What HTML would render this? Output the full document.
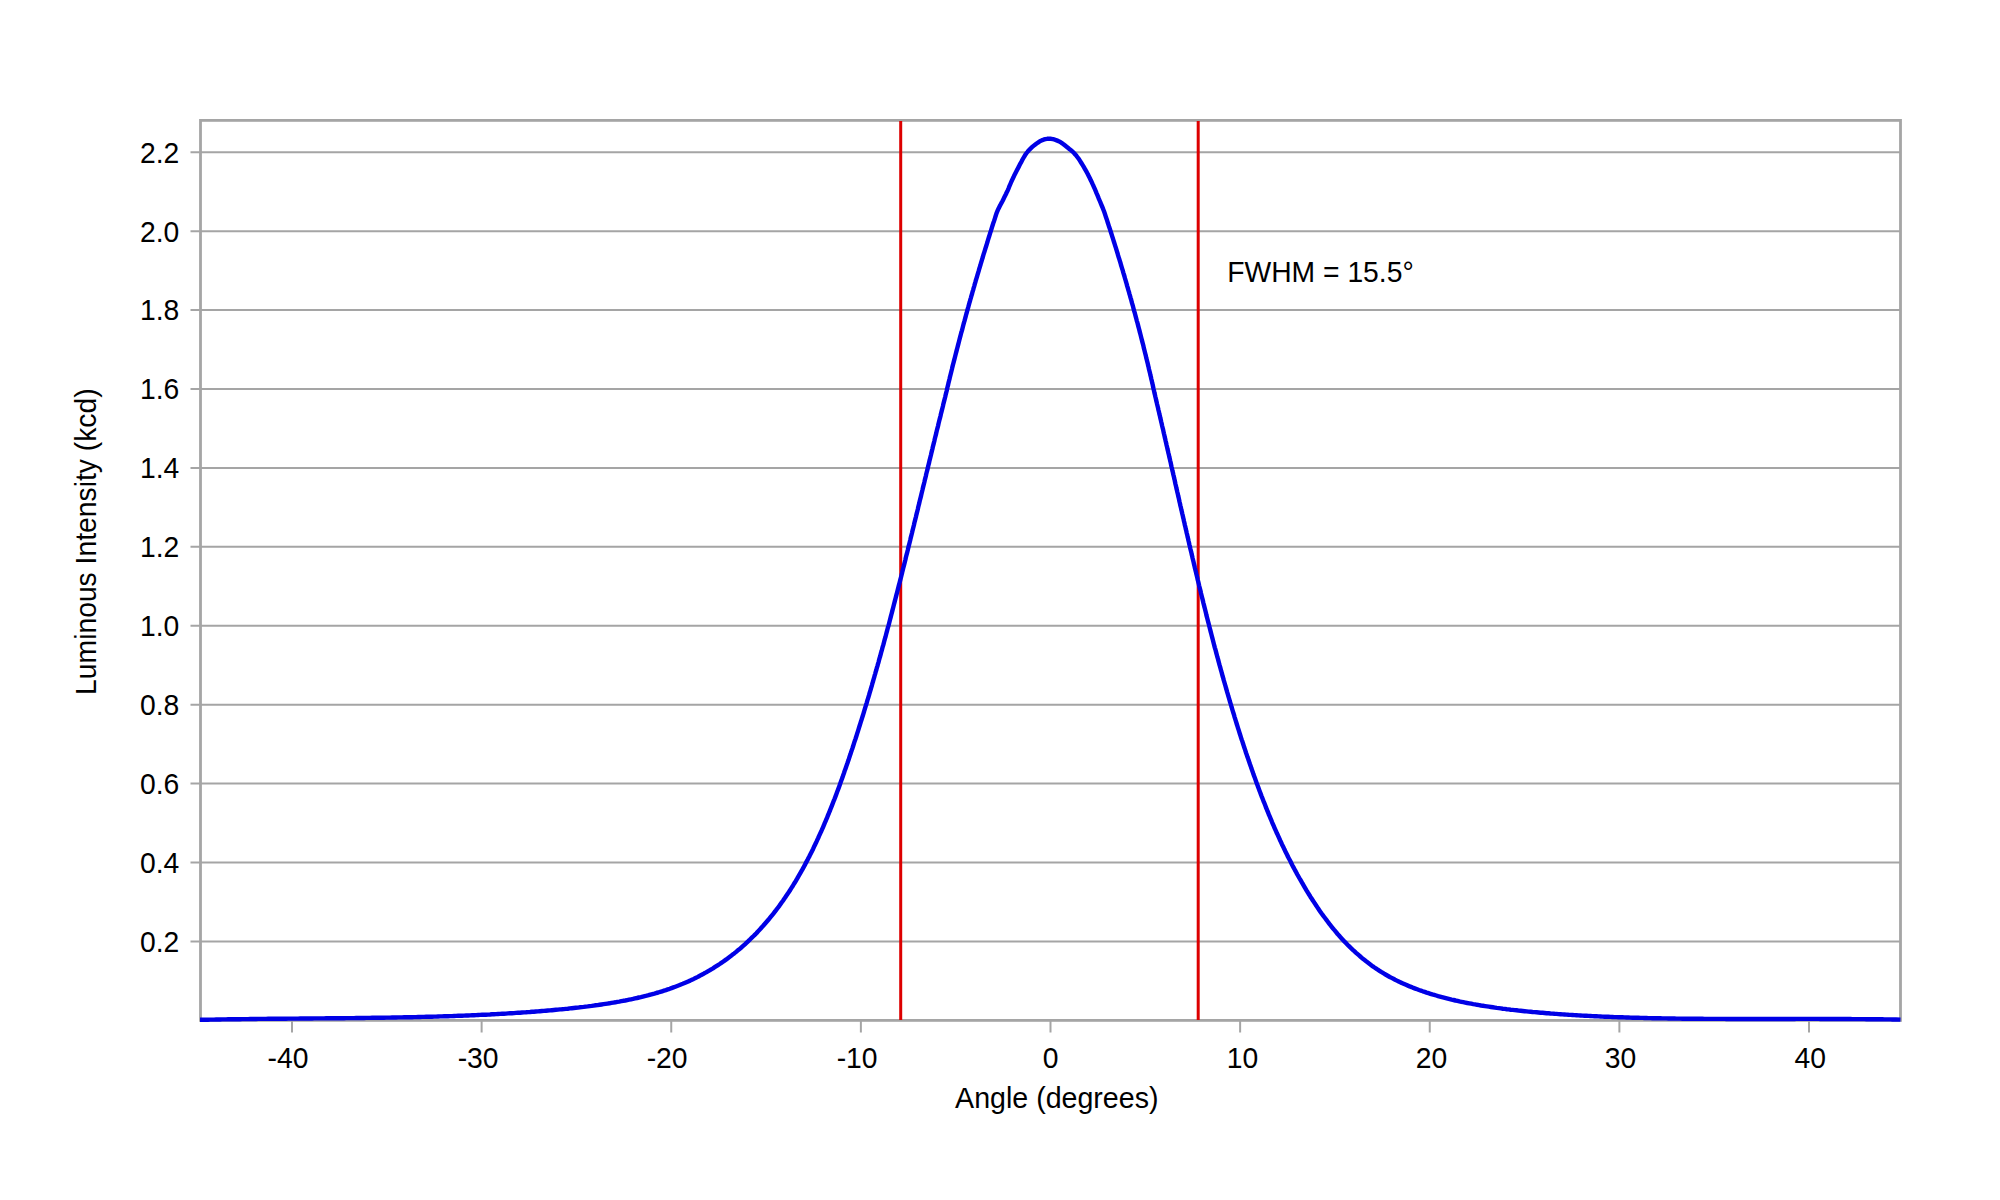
<!DOCTYPE html>
<html><head><meta charset="utf-8"><style>
html,body{margin:0;padding:0;background:#fff;width:2000px;height:1200px;overflow:hidden}
svg{position:absolute;left:0;top:0;display:block}
text{font-family:"Liberation Sans",sans-serif;font-size:28.3px;fill:#000}
</style></head><body>
<svg width="2000" height="1200" viewBox="0 0 2000 1200">
<rect width="2000" height="1200" fill="#fff"/>
<line x1="190.5" y1="941.40" x2="1900.5" y2="941.40" stroke="#a5a5a5" stroke-width="2"/>
<line x1="190.5" y1="862.49" x2="1900.5" y2="862.49" stroke="#a5a5a5" stroke-width="2"/>
<line x1="190.5" y1="783.58" x2="1900.5" y2="783.58" stroke="#a5a5a5" stroke-width="2"/>
<line x1="190.5" y1="704.67" x2="1900.5" y2="704.67" stroke="#a5a5a5" stroke-width="2"/>
<line x1="190.5" y1="625.76" x2="1900.5" y2="625.76" stroke="#a5a5a5" stroke-width="2"/>
<line x1="190.5" y1="546.85" x2="1900.5" y2="546.85" stroke="#a5a5a5" stroke-width="2"/>
<line x1="190.5" y1="467.94" x2="1900.5" y2="467.94" stroke="#a5a5a5" stroke-width="2"/>
<line x1="190.5" y1="389.03" x2="1900.5" y2="389.03" stroke="#a5a5a5" stroke-width="2"/>
<line x1="190.5" y1="310.12" x2="1900.5" y2="310.12" stroke="#a5a5a5" stroke-width="2"/>
<line x1="190.5" y1="231.21" x2="1900.5" y2="231.21" stroke="#a5a5a5" stroke-width="2"/>
<line x1="190.5" y1="152.30" x2="1900.5" y2="152.30" stroke="#a5a5a5" stroke-width="2"/>
<line x1="292.00" y1="1020" x2="292.00" y2="1032.5" stroke="#a5a5a5" stroke-width="2"/>
<line x1="481.62" y1="1020" x2="481.62" y2="1032.5" stroke="#a5a5a5" stroke-width="2"/>
<line x1="671.25" y1="1020" x2="671.25" y2="1032.5" stroke="#a5a5a5" stroke-width="2"/>
<line x1="860.88" y1="1020" x2="860.88" y2="1032.5" stroke="#a5a5a5" stroke-width="2"/>
<line x1="1050.50" y1="1020" x2="1050.50" y2="1032.5" stroke="#a5a5a5" stroke-width="2"/>
<line x1="1240.12" y1="1020" x2="1240.12" y2="1032.5" stroke="#a5a5a5" stroke-width="2"/>
<line x1="1429.75" y1="1020" x2="1429.75" y2="1032.5" stroke="#a5a5a5" stroke-width="2"/>
<line x1="1619.38" y1="1020" x2="1619.38" y2="1032.5" stroke="#a5a5a5" stroke-width="2"/>
<line x1="1809.00" y1="1020" x2="1809.00" y2="1032.5" stroke="#a5a5a5" stroke-width="2"/>
<rect x="200.5" y="120.4" width="1700" height="900" fill="none" stroke="#a5a5a5" stroke-width="2.8"/>
<line x1="900.7" y1="121" x2="900.7" y2="1020" stroke="#dd0000" stroke-width="3"/>
<line x1="1198.2" y1="121" x2="1198.2" y2="1020" stroke="#dd0000" stroke-width="3"/>
<path d="M200.0,1019.8 L202.9,1019.8 L204.4,1019.8 L206.2,1019.7 L208.1,1019.7 L210.1,1019.6 L212.1,1019.6 L214.1,1019.6 L216.1,1019.5 L218.1,1019.5 L220.1,1019.5 L222.1,1019.4 L224.1,1019.4 L226.1,1019.4 L228.1,1019.3 L230.1,1019.3 L232.1,1019.3 L234.1,1019.2 L236.1,1019.2 L238.1,1019.2 L240.1,1019.2 L242.1,1019.1 L244.1,1019.1 L246.1,1019.1 L248.1,1019.1 L250.1,1019.0 L252.1,1019.0 L254.1,1019.0 L256.1,1019.0 L258.1,1018.9 L260.1,1018.9 L262.1,1018.9 L264.1,1018.9 L266.1,1018.9 L268.1,1018.8 L270.1,1018.8 L272.1,1018.8 L274.1,1018.8 L276.1,1018.8 L278.1,1018.7 L280.1,1018.7 L282.1,1018.7 L284.1,1018.7 L286.1,1018.7 L288.1,1018.6 L290.1,1018.6 L292.1,1018.6 L294.1,1018.6 L296.1,1018.6 L298.1,1018.6 L300.1,1018.5 L302.1,1018.5 L304.1,1018.5 L306.1,1018.5 L308.1,1018.5 L310.1,1018.5 L312.1,1018.5 L314.1,1018.4 L316.1,1018.4 L318.1,1018.4 L320.1,1018.4 L322.1,1018.4 L324.1,1018.4 L326.1,1018.3 L328.1,1018.3 L330.1,1018.3 L332.1,1018.3 L334.1,1018.3 L336.1,1018.2 L338.1,1018.2 L340.1,1018.2 L342.1,1018.2 L344.1,1018.2 L346.1,1018.1 L348.1,1018.1 L350.1,1018.1 L352.1,1018.1 L354.1,1018.1 L356.1,1018.0 L358.1,1018.0 L360.1,1018.0 L362.1,1018.0 L364.1,1018.0 L366.1,1017.9 L368.1,1017.9 L370.1,1017.9 L372.1,1017.8 L374.1,1017.8 L376.1,1017.8 L378.1,1017.8 L380.1,1017.7 L382.1,1017.7 L384.1,1017.7 L386.1,1017.6 L388.1,1017.6 L390.1,1017.6 L392.1,1017.5 L394.1,1017.5 L396.1,1017.5 L398.1,1017.4 L400.1,1017.4 L402.1,1017.4 L404.1,1017.3 L406.1,1017.3 L408.1,1017.2 L410.1,1017.2 L412.1,1017.2 L414.1,1017.1 L416.1,1017.1 L418.1,1017.0 L420.1,1017.0 L422.1,1016.9 L424.1,1016.9 L426.1,1016.8 L428.1,1016.8 L430.1,1016.7 L432.1,1016.7 L434.1,1016.6 L436.1,1016.6 L438.1,1016.5 L440.1,1016.4 L442.1,1016.4 L444.1,1016.3 L446.1,1016.3 L448.1,1016.2 L450.1,1016.1 L452.1,1016.1 L454.1,1016.0 L456.1,1015.9 L458.1,1015.8 L460.1,1015.8 L462.1,1015.7 L464.1,1015.6 L466.1,1015.5 L468.1,1015.5 L470.1,1015.4 L472.1,1015.3 L474.1,1015.2 L476.1,1015.1 L478.1,1015.0 L480.0,1014.9 L482.0,1014.8 L484.0,1014.7 L486.0,1014.7 L488.0,1014.6 L490.0,1014.5 L492.0,1014.3 L494.0,1014.2 L496.0,1014.1 L498.0,1014.0 L500.0,1013.9 L502.0,1013.8 L504.0,1013.7 L506.0,1013.6 L508.0,1013.4 L510.0,1013.3 L512.0,1013.2 L514.0,1013.1 L516.0,1012.9 L518.0,1012.8 L520.0,1012.7 L522.0,1012.5 L524.0,1012.4 L526.0,1012.3 L528.0,1012.1 L530.0,1012.0 L532.0,1011.8 L533.9,1011.7 L535.9,1011.5 L537.9,1011.4 L539.9,1011.2 L541.9,1011.0 L543.9,1010.9 L545.9,1010.7 L547.9,1010.5 L549.9,1010.4 L551.9,1010.2 L553.9,1010.0 L555.9,1009.8 L557.9,1009.6 L559.9,1009.4 L561.8,1009.3 L563.8,1009.1 L565.8,1008.9 L567.8,1008.7 L569.8,1008.4 L571.8,1008.2 L573.8,1008.0 L575.8,1007.8 L577.8,1007.6 L579.7,1007.3 L581.7,1007.1 L583.7,1006.9 L585.7,1006.6 L587.7,1006.4 L589.7,1006.1 L591.7,1005.9 L593.6,1005.6 L595.6,1005.3 L597.6,1005.1 L599.6,1004.8 L601.6,1004.5 L603.5,1004.2 L605.5,1003.9 L607.5,1003.6 L609.5,1003.3 L611.4,1002.9 L613.4,1002.6 L615.4,1002.3 L617.3,1001.9 L619.3,1001.6 L621.3,1001.2 L623.2,1000.8 L625.2,1000.5 L627.2,1000.1 L629.1,999.7 L631.1,999.3 L633.0,998.9 L635.0,998.4 L637.0,998.0 L638.9,997.5 L640.8,997.1 L642.8,996.6 L644.7,996.1 L646.7,995.7 L648.6,995.2 L650.5,994.6 L652.5,994.1 L654.4,993.6 L656.3,993.0 L658.2,992.5 L660.2,991.9 L662.1,991.3 L664.0,990.7 L665.9,990.1 L667.8,989.4 L669.7,988.8 L671.5,988.1 L673.4,987.4 L675.3,986.7 L677.2,986.0 L679.0,985.3 L680.9,984.5 L682.7,983.8 L684.6,983.0 L686.4,982.2 L688.2,981.4 L690.1,980.6 L691.9,979.7 L693.7,978.9 L695.5,978.0 L697.3,977.1 L699.0,976.2 L700.8,975.2 L702.6,974.3 L704.3,973.3 L706.1,972.4 L707.8,971.4 L709.5,970.4 L711.2,969.3 L713.0,968.3 L714.7,967.2 L716.3,966.2 L718.0,965.1 L719.7,964.0 L721.3,962.9 L723.0,961.7 L724.6,960.6 L726.3,959.4 L727.9,958.2 L729.5,957.0 L731.1,955.8 L732.6,954.6 L734.2,953.4 L735.8,952.1 L737.3,950.8 L738.9,949.6 L740.4,948.3 L741.9,947.0 L743.4,945.6 L744.9,944.3 L746.4,942.9 L747.8,941.6 L749.3,940.2 L750.7,938.8 L752.1,937.4 L753.6,936.0 L755.0,934.6 L756.4,933.2 L757.7,931.7 L759.1,930.3 L760.5,928.8 L761.8,927.3 L763.2,925.8 L764.5,924.3 L765.8,922.8 L767.1,921.3 L768.4,919.8 L769.7,918.2 L770.9,916.7 L772.2,915.1 L773.4,913.6 L774.6,912.0 L775.9,910.4 L777.1,908.8 L778.3,907.2 L779.5,905.6 L780.6,904.0 L781.8,902.3 L783.0,900.7 L784.1,899.1 L785.2,897.4 L786.3,895.8 L787.5,894.1 L788.6,892.4 L789.7,890.8 L790.7,889.1 L791.8,887.4 L792.9,885.7 L793.9,884.0 L795.0,882.3 L796.0,880.6 L797.0,878.9 L798.0,877.1 L799.0,875.4 L800.0,873.7 L801.0,871.9 L802.0,870.2 L803.0,868.4 L803.9,866.7 L804.9,864.9 L805.8,863.1 L806.7,861.4 L807.7,859.6 L808.6,857.8 L809.5,856.1 L810.4,854.3 L811.3,852.5 L812.2,850.7 L813.1,848.9 L813.9,847.1 L814.8,845.3 L815.6,843.5 L816.5,841.7 L817.3,839.9 L818.2,838.0 L819.0,836.2 L819.8,834.4 L820.6,832.6 L821.5,830.7 L822.3,828.9 L823.1,827.1 L823.9,825.2 L824.6,823.4 L825.4,821.6 L826.2,819.7 L827.0,817.9 L827.7,816.0 L828.5,814.2 L829.2,812.3 L830.0,810.5 L830.7,808.6 L831.5,806.7 L832.2,804.9 L832.9,803.0 L833.6,801.2 L834.4,799.3 L835.1,797.4 L835.8,795.6 L836.5,793.7 L837.2,791.8 L837.9,789.9 L838.6,788.1 L839.3,786.2 L840.0,784.3 L840.6,782.4 L841.3,780.5 L842.0,778.7 L842.7,776.8 L843.3,774.9 L844.0,773.0 L844.6,771.1 L845.3,769.2 L846.0,767.3 L846.6,765.4 L847.3,763.5 L847.9,761.7 L848.6,759.8 L849.2,757.9 L849.8,756.0 L850.5,754.1 L851.1,752.2 L851.7,750.3 L852.4,748.4 L853.0,746.5 L853.6,744.6 L854.2,742.7 L854.8,740.8 L855.5,738.9 L856.1,737.0 L856.7,735.1 L857.3,733.2 L857.9,731.3 L858.5,729.4 L859.1,727.4 L859.7,725.5 L860.3,723.6 L860.9,721.7 L861.5,719.8 L862.1,717.9 L862.7,716.0 L863.3,714.1 L863.9,712.2 L864.4,710.3 L865.0,708.3 L865.6,706.4 L866.2,704.5 L866.8,702.6 L867.3,700.7 L867.9,698.8 L868.5,696.8 L869.1,694.9 L869.6,693.0 L870.2,691.1 L870.8,689.2 L871.3,687.3 L871.9,685.3 L872.4,683.4 L873.0,681.5 L873.5,679.6 L874.1,677.7 L874.6,675.7 L875.2,673.8 L875.7,671.9 L876.3,670.0 L876.8,668.0 L877.4,666.1 L877.9,664.2 L878.5,662.3 L879.0,660.3 L879.5,658.4 L880.1,656.5 L880.6,654.6 L881.1,652.6 L881.7,650.7 L882.2,648.8 L882.7,646.8 L883.3,644.9 L883.8,643.0 L884.3,641.0 L884.8,639.1 L885.4,637.2 L885.9,635.3 L886.4,633.3 L886.9,631.4 L887.4,629.5 L887.9,627.5 L888.5,625.6 L889.0,623.7 L889.5,621.7 L890.0,619.8 L890.5,617.9 L891.0,615.9 L891.5,614.0 L892.0,612.1 L892.5,610.1 L893.0,608.2 L893.5,606.3 L894.0,604.3 L894.5,602.4 L895.0,600.4 L895.5,598.5 L896.0,596.6 L896.5,594.6 L897.0,592.7 L897.5,590.8 L898.0,588.8 L898.5,586.9 L899.0,584.9 L899.5,583.0 L900.0,581.1 L900.5,579.1 L901.0,577.2 L901.5,575.3 L902.0,573.3 L902.4,571.4 L902.9,569.4 L903.4,567.5 L903.9,565.6 L904.4,563.6 L904.9,561.7 L905.4,559.7 L905.8,557.8 L906.3,555.8 L906.8,553.9 L907.3,552.0 L907.8,550.0 L908.2,548.1 L908.7,546.1 L909.2,544.2 L909.7,542.3 L910.2,540.3 L910.6,538.4 L911.1,536.4 L911.6,534.5 L912.1,532.5 L912.5,530.6 L913.0,528.7 L913.5,526.7 L914.0,524.8 L914.4,522.8 L914.9,520.9 L915.4,518.9 L915.9,517.0 L916.3,515.1 L916.8,513.1 L917.3,511.2 L917.8,509.2 L918.2,507.3 L918.7,505.3 L919.2,503.4 L919.6,501.5 L920.1,499.5 L920.6,497.6 L921.1,495.6 L921.5,493.7 L922.0,491.7 L922.5,489.8 L922.9,487.9 L923.4,485.9 L923.9,484.0 L924.4,482.0 L924.8,480.1 L925.3,478.1 L925.8,476.2 L926.2,474.2 L926.7,472.3 L927.2,470.4 L927.7,468.4 L928.1,466.5 L928.6,464.5 L929.1,462.6 L929.5,460.6 L930.0,458.7 L930.5,456.8 L931.0,454.8 L931.4,452.9 L931.9,450.9 L932.4,449.0 L932.8,447.0 L933.3,445.1 L933.8,443.1 L934.3,441.2 L934.7,439.3 L935.2,437.3 L935.7,435.4 L936.2,433.4 L936.6,431.5 L937.1,429.5 L937.6,427.6 L938.1,425.7 L938.5,423.7 L939.0,421.8 L939.5,419.8 L940.0,417.9 L940.5,416.0 L940.9,414.0 L941.4,412.1 L941.9,410.1 L942.4,408.2 L942.9,406.2 L943.3,404.3 L943.8,402.4 L944.3,400.4 L944.8,398.5 L945.3,396.5 L945.7,394.6 L946.2,392.7 L946.7,390.7 L947.1,388.8 L947.6,386.8 L948.1,384.9 L948.5,382.9 L949.0,381.0 L949.5,379.0 L949.9,377.1 L950.4,375.2 L950.9,373.2 L951.4,371.3 L951.9,369.3 L952.3,367.4 L952.8,365.4 L953.3,363.5 L953.8,361.6 L954.3,359.6 L954.8,357.7 L955.3,355.8 L955.8,353.8 L956.3,351.9 L956.8,349.9 L957.3,348.0 L957.8,346.1 L958.3,344.1 L958.8,342.2 L959.3,340.3 L959.8,338.3 L960.3,336.4 L960.8,334.5 L961.3,332.5 L961.9,330.6 L962.4,328.7 L962.9,326.7 L963.4,324.8 L963.9,322.9 L964.5,320.9 L965.0,319.0 L965.5,317.1 L966.0,315.2 L966.6,313.2 L967.1,311.3 L967.6,309.4 L968.2,307.4 L968.7,305.5 L969.2,303.6 L969.8,301.7 L970.3,299.7 L970.9,297.8 L971.4,295.9 L972.0,294.0 L972.5,292.0 L973.1,290.1 L973.6,288.2 L974.2,286.3 L974.7,284.4 L975.3,282.4 L975.8,280.5 L976.4,278.6 L977.0,276.7 L977.5,274.8 L978.1,272.8 L978.7,270.9 L979.2,269.0 L979.8,267.1 L980.4,265.2 L980.9,263.3 L981.5,261.3 L982.1,259.4 L982.7,257.5 L983.2,255.6 L983.8,253.7 L984.4,251.8 L985.0,249.9 L985.6,247.9 L986.2,246.0 L986.8,244.1 L987.4,242.2 L987.9,240.3 L988.5,238.4 L989.1,236.5 L989.7,234.6 L990.3,232.7 L990.9,230.8 L991.5,228.8 L992.1,226.9 L992.7,225.0 L993.3,223.1 L994.0,221.2 L994.6,219.3 L995.2,217.4 L995.8,215.5 L996.4,213.6 L997.1,211.8 L997.9,209.9 L998.7,208.2 L999.6,206.4 L1000.5,204.7 L1001.5,202.9 L1002.4,201.2 L1003.3,199.4 L1004.2,197.6 L1005.1,195.8 L1006.0,194.0 L1006.8,192.2 L1007.7,190.4 L1008.5,188.6 L1009.2,186.7 L1010.0,184.9 L1010.8,183.0 L1011.6,181.2 L1012.4,179.4 L1013.3,177.6 L1014.1,175.8 L1015.0,174.0 L1015.9,172.2 L1016.8,170.4 L1017.8,168.6 L1018.7,166.9 L1019.6,165.1 L1020.5,163.3 L1021.5,161.6 L1022.4,159.8 L1023.4,158.0 L1024.4,156.3 L1025.4,154.6 L1026.6,153.0 L1027.8,151.5 L1029.1,150.0 L1030.5,148.6 L1032.0,147.2 L1033.5,145.9 L1035.0,144.7 L1036.6,143.5 L1038.3,142.4 L1039.9,141.3 L1041.7,140.4 L1043.5,139.7 L1045.3,139.1 L1047.2,138.8 L1049.1,138.7 L1051.1,138.8 L1053.0,139.2 L1054.9,139.7 L1056.7,140.4 L1058.5,141.1 L1060.3,142.0 L1061.9,143.1 L1063.5,144.2 L1065.1,145.5 L1066.6,146.7 L1068.2,148.0 L1069.7,149.3 L1071.3,150.5 L1072.8,151.8 L1074.2,153.2 L1075.5,154.7 L1076.7,156.2 L1077.9,157.8 L1079.1,159.4 L1080.2,161.1 L1081.2,162.8 L1082.3,164.5 L1083.3,166.2 L1084.3,167.9 L1085.3,169.7 L1086.3,171.4 L1087.3,173.2 L1088.2,174.9 L1089.1,176.7 L1090.0,178.5 L1090.8,180.3 L1091.7,182.1 L1092.5,183.9 L1093.4,185.8 L1094.2,187.6 L1095.0,189.4 L1095.8,191.3 L1096.5,193.1 L1097.3,194.9 L1098.1,196.8 L1098.8,198.6 L1099.6,200.5 L1100.4,202.3 L1101.1,204.2 L1101.9,206.0 L1102.7,207.9 L1103.4,209.7 L1104.1,211.6 L1104.8,213.5 L1105.4,215.4 L1106.0,217.3 L1106.7,219.2 L1107.3,221.1 L1107.9,223.0 L1108.5,224.9 L1109.1,226.8 L1109.8,228.7 L1110.4,230.6 L1111.0,232.5 L1111.6,234.4 L1112.2,236.3 L1112.8,238.2 L1113.4,240.1 L1114.0,242.0 L1114.6,243.9 L1115.2,245.8 L1115.8,247.7 L1116.4,249.7 L1117.0,251.6 L1117.6,253.5 L1118.1,255.4 L1118.7,257.3 L1119.3,259.2 L1119.9,261.1 L1120.5,263.0 L1121.0,265.0 L1121.6,266.9 L1122.2,268.8 L1122.8,270.7 L1123.3,272.6 L1123.9,274.5 L1124.5,276.5 L1125.0,278.4 L1125.6,280.3 L1126.1,282.2 L1126.7,284.1 L1127.2,286.1 L1127.8,288.0 L1128.3,289.9 L1128.9,291.8 L1129.4,293.8 L1130.0,295.7 L1130.5,297.6 L1131.1,299.5 L1131.6,301.5 L1132.1,303.4 L1132.7,305.3 L1133.2,307.2 L1133.7,309.2 L1134.2,311.1 L1134.8,313.0 L1135.3,315.0 L1135.8,316.9 L1136.3,318.8 L1136.8,320.8 L1137.4,322.7 L1137.9,324.6 L1138.4,326.6 L1138.9,328.5 L1139.4,330.4 L1139.9,332.4 L1140.4,334.3 L1140.9,336.2 L1141.4,338.2 L1141.9,340.1 L1142.4,342.1 L1142.9,344.0 L1143.4,345.9 L1143.8,347.9 L1144.3,349.8 L1144.8,351.8 L1145.3,353.7 L1145.8,355.6 L1146.2,357.6 L1146.7,359.5 L1147.2,361.5 L1147.7,363.4 L1148.1,365.4 L1148.6,367.3 L1149.0,369.2 L1149.5,371.2 L1150.0,373.1 L1150.4,375.1 L1150.9,377.0 L1151.3,379.0 L1151.8,380.9 L1152.2,382.9 L1152.7,384.8 L1153.1,386.8 L1153.5,388.7 L1154.0,390.7 L1154.4,392.6 L1154.9,394.6 L1155.3,396.5 L1155.8,398.5 L1156.2,400.4 L1156.7,402.4 L1157.1,404.3 L1157.6,406.3 L1158.1,408.2 L1158.5,410.2 L1159.0,412.1 L1159.4,414.1 L1159.9,416.0 L1160.3,417.9 L1160.8,419.9 L1161.2,421.8 L1161.7,423.8 L1162.1,425.7 L1162.6,427.7 L1163.1,429.6 L1163.5,431.6 L1163.9,433.5 L1164.4,435.5 L1164.8,437.4 L1165.3,439.4 L1165.7,441.3 L1166.2,443.3 L1166.6,445.2 L1167.1,447.2 L1167.5,449.1 L1168.0,451.1 L1168.4,453.0 L1168.9,455.0 L1169.3,456.9 L1169.8,458.9 L1170.2,460.8 L1170.7,462.8 L1171.1,464.7 L1171.5,466.7 L1172.0,468.6 L1172.4,470.6 L1172.9,472.5 L1173.3,474.5 L1173.8,476.4 L1174.2,478.4 L1174.7,480.3 L1175.1,482.3 L1175.5,484.2 L1176.0,486.2 L1176.4,488.1 L1176.9,490.1 L1177.3,492.0 L1177.8,494.0 L1178.2,495.9 L1178.7,497.9 L1179.1,499.8 L1179.5,501.8 L1180.0,503.7 L1180.4,505.7 L1180.9,507.6 L1181.3,509.6 L1181.8,511.5 L1182.2,513.5 L1182.7,515.4 L1183.1,517.4 L1183.6,519.3 L1184.0,521.3 L1184.5,523.2 L1184.9,525.2 L1185.4,527.1 L1185.8,529.1 L1186.3,531.0 L1186.7,533.0 L1187.2,534.9 L1187.6,536.9 L1188.1,538.8 L1188.5,540.8 L1189.0,542.7 L1189.4,544.7 L1189.9,546.6 L1190.3,548.5 L1190.8,550.5 L1191.3,552.4 L1191.7,554.4 L1192.2,556.3 L1192.6,558.3 L1193.1,560.2 L1193.6,562.2 L1194.0,564.1 L1194.5,566.1 L1194.9,568.0 L1195.4,570.0 L1195.9,571.9 L1196.3,573.8 L1196.8,575.8 L1197.3,577.7 L1197.7,579.7 L1198.2,581.6 L1198.7,583.6 L1199.1,585.5 L1199.6,587.5 L1200.1,589.4 L1200.6,591.3 L1201.0,593.3 L1201.5,595.2 L1202.0,597.2 L1202.5,599.1 L1203.0,601.1 L1203.4,603.0 L1203.9,604.9 L1204.4,606.9 L1204.9,608.8 L1205.4,610.8 L1205.9,612.7 L1206.3,614.6 L1206.8,616.6 L1207.3,618.5 L1207.8,620.5 L1208.3,622.4 L1208.8,624.3 L1209.3,626.3 L1209.8,628.2 L1210.3,630.1 L1210.8,632.1 L1211.3,634.0 L1211.8,636.0 L1212.3,637.9 L1212.8,639.8 L1213.3,641.8 L1213.8,643.7 L1214.3,645.6 L1214.8,647.6 L1215.4,649.5 L1215.9,651.4 L1216.4,653.4 L1216.9,655.3 L1217.4,657.2 L1218.0,659.1 L1218.5,661.1 L1219.0,663.0 L1219.5,664.9 L1220.1,666.9 L1220.6,668.8 L1221.1,670.7 L1221.7,672.6 L1222.2,674.6 L1222.7,676.5 L1223.3,678.4 L1223.8,680.4 L1224.4,682.3 L1224.9,684.2 L1225.5,686.1 L1226.0,688.0 L1226.6,690.0 L1227.1,691.9 L1227.7,693.8 L1228.2,695.7 L1228.8,697.6 L1229.4,699.6 L1229.9,701.5 L1230.5,703.4 L1231.1,705.3 L1231.6,707.2 L1232.2,709.2 L1232.8,711.1 L1233.4,713.0 L1234.0,714.9 L1234.5,716.8 L1235.1,718.7 L1235.7,720.6 L1236.3,722.5 L1236.9,724.5 L1237.5,726.4 L1238.1,728.3 L1238.7,730.2 L1239.3,732.1 L1239.9,734.0 L1240.5,735.9 L1241.1,737.8 L1241.7,739.7 L1242.4,741.6 L1243.0,743.5 L1243.6,745.4 L1244.2,747.3 L1244.9,749.2 L1245.5,751.1 L1246.1,753.0 L1246.8,754.9 L1247.4,756.8 L1248.1,758.7 L1248.7,760.6 L1249.4,762.5 L1250.0,764.3 L1250.7,766.2 L1251.3,768.1 L1252.0,770.0 L1252.7,771.9 L1253.3,773.8 L1254.0,775.7 L1254.7,777.5 L1255.4,779.4 L1256.0,781.3 L1256.7,783.2 L1257.4,785.1 L1258.1,786.9 L1258.8,788.8 L1259.5,790.7 L1260.2,792.6 L1260.9,794.4 L1261.6,796.3 L1262.4,798.2 L1263.1,800.0 L1263.8,801.9 L1264.6,803.7 L1265.3,805.6 L1266.0,807.5 L1266.8,809.3 L1267.5,811.2 L1268.3,813.0 L1269.0,814.9 L1269.8,816.7 L1270.6,818.6 L1271.4,820.4 L1272.1,822.3 L1272.9,824.1 L1273.7,825.9 L1274.5,827.8 L1275.3,829.6 L1276.1,831.4 L1276.9,833.3 L1277.8,835.1 L1278.6,836.9 L1279.4,838.7 L1280.2,840.5 L1281.1,842.3 L1281.9,844.2 L1282.8,846.0 L1283.7,847.8 L1284.5,849.6 L1285.4,851.4 L1286.3,853.2 L1287.2,855.0 L1288.0,856.8 L1288.9,858.5 L1289.9,860.3 L1290.8,862.1 L1291.7,863.9 L1292.6,865.7 L1293.5,867.4 L1294.5,869.2 L1295.4,870.9 L1296.4,872.7 L1297.3,874.5 L1298.3,876.2 L1299.3,878.0 L1300.3,879.7 L1301.3,881.4 L1302.3,883.2 L1303.3,884.9 L1304.3,886.6 L1305.3,888.3 L1306.3,890.1 L1307.4,891.8 L1308.4,893.5 L1309.5,895.2 L1310.5,896.9 L1311.6,898.5 L1312.7,900.2 L1313.8,901.9 L1314.9,903.6 L1316.0,905.2 L1317.1,906.9 L1318.2,908.6 L1319.3,910.2 L1320.5,911.9 L1321.6,913.5 L1322.8,915.1 L1324.0,916.7 L1325.2,918.3 L1326.4,919.9 L1327.6,921.5 L1328.8,923.1 L1330.0,924.7 L1331.3,926.3 L1332.5,927.8 L1333.8,929.4 L1335.1,930.9 L1336.3,932.4 L1337.6,934.0 L1339.0,935.5 L1340.3,937.0 L1341.6,938.4 L1343.0,939.9 L1344.4,941.4 L1345.7,942.8 L1347.1,944.3 L1348.5,945.7 L1350.0,947.1 L1351.4,948.5 L1352.8,949.9 L1354.3,951.2 L1355.8,952.6 L1357.3,953.9 L1358.8,955.2 L1360.3,956.5 L1361.8,957.8 L1363.3,959.1 L1364.9,960.3 L1366.5,961.6 L1368.1,962.8 L1369.7,964.0 L1371.3,965.2 L1372.9,966.4 L1374.5,967.5 L1376.2,968.6 L1377.8,969.7 L1379.5,970.8 L1381.2,971.9 L1382.9,972.9 L1384.6,974.0 L1386.4,975.0 L1388.1,976.0 L1389.8,977.0 L1391.6,977.9 L1393.4,978.8 L1395.1,979.7 L1396.9,980.6 L1398.7,981.5 L1400.5,982.4 L1402.4,983.2 L1404.2,984.0 L1406.0,984.8 L1407.9,985.6 L1409.7,986.4 L1411.6,987.1 L1413.4,987.9 L1415.3,988.6 L1417.2,989.3 L1419.0,990.0 L1420.9,990.6 L1422.8,991.3 L1424.7,991.9 L1426.6,992.6 L1428.5,993.2 L1430.4,993.8 L1432.3,994.4 L1434.2,994.9 L1436.2,995.5 L1438.1,996.1 L1440.0,996.6 L1441.9,997.1 L1443.9,997.6 L1445.8,998.1 L1447.7,998.6 L1449.7,999.1 L1451.6,999.6 L1453.6,1000.0 L1455.5,1000.5 L1457.5,1000.9 L1459.4,1001.4 L1461.4,1001.8 L1463.3,1002.2 L1465.3,1002.6 L1467.3,1003.0 L1469.2,1003.3 L1471.2,1003.7 L1473.2,1004.1 L1475.1,1004.4 L1477.1,1004.8 L1479.1,1005.1 L1481.0,1005.5 L1483.0,1005.8 L1485.0,1006.1 L1487.0,1006.4 L1488.9,1006.7 L1490.9,1007.0 L1492.9,1007.3 L1494.9,1007.6 L1496.8,1007.9 L1498.8,1008.1 L1500.8,1008.4 L1502.8,1008.7 L1504.8,1008.9 L1506.8,1009.2 L1508.7,1009.4 L1510.7,1009.7 L1512.7,1009.9 L1514.7,1010.1 L1516.7,1010.3 L1518.7,1010.6 L1520.7,1010.8 L1522.7,1011.0 L1524.7,1011.2 L1526.6,1011.4 L1528.6,1011.6 L1530.6,1011.8 L1532.6,1012.0 L1534.6,1012.1 L1536.6,1012.3 L1538.6,1012.5 L1540.6,1012.7 L1542.6,1012.8 L1544.6,1013.0 L1546.6,1013.2 L1548.6,1013.3 L1550.5,1013.5 L1552.5,1013.6 L1554.5,1013.8 L1556.5,1013.9 L1558.5,1014.1 L1560.5,1014.2 L1562.5,1014.4 L1564.5,1014.5 L1566.5,1014.6 L1568.5,1014.8 L1570.5,1014.9 L1572.5,1015.0 L1574.5,1015.1 L1576.5,1015.2 L1578.5,1015.4 L1580.5,1015.5 L1582.5,1015.6 L1584.5,1015.7 L1586.5,1015.8 L1588.5,1015.9 L1590.5,1016.0 L1592.5,1016.1 L1594.5,1016.2 L1596.5,1016.3 L1598.5,1016.4 L1600.5,1016.5 L1602.5,1016.6 L1604.5,1016.7 L1606.4,1016.7 L1608.4,1016.8 L1610.4,1016.9 L1612.4,1017.0 L1614.4,1017.1 L1616.4,1017.1 L1618.4,1017.2 L1620.4,1017.3 L1622.4,1017.3 L1624.4,1017.4 L1626.4,1017.5 L1628.4,1017.5 L1630.4,1017.6 L1632.4,1017.7 L1634.4,1017.7 L1636.4,1017.8 L1638.4,1017.8 L1640.4,1017.9 L1642.4,1017.9 L1644.4,1018.0 L1646.4,1018.0 L1648.4,1018.1 L1650.4,1018.1 L1652.4,1018.2 L1654.4,1018.2 L1656.4,1018.2 L1658.4,1018.3 L1660.4,1018.3 L1662.4,1018.4 L1664.4,1018.4 L1666.4,1018.4 L1668.4,1018.5 L1670.4,1018.5 L1672.4,1018.5 L1674.4,1018.5 L1676.4,1018.6 L1678.4,1018.6 L1680.4,1018.6 L1682.4,1018.7 L1684.4,1018.7 L1686.4,1018.7 L1688.4,1018.7 L1690.4,1018.7 L1692.4,1018.8 L1694.4,1018.8 L1696.4,1018.8 L1698.4,1018.8 L1700.4,1018.8 L1702.4,1018.8 L1704.4,1018.9 L1706.4,1018.9 L1708.4,1018.9 L1710.4,1018.9 L1712.4,1018.9 L1714.4,1018.9 L1716.4,1018.9 L1718.4,1018.9 L1720.4,1018.9 L1722.4,1018.9 L1724.4,1018.9 L1726.4,1019.0 L1728.4,1019.0 L1730.4,1019.0 L1732.4,1019.0 L1734.4,1019.0 L1736.4,1019.0 L1738.4,1019.0 L1740.4,1019.0 L1742.4,1019.0 L1744.4,1019.0 L1746.4,1019.0 L1748.4,1019.0 L1750.4,1019.0 L1752.4,1019.0 L1754.4,1019.0 L1756.4,1019.0 L1758.4,1019.0 L1760.4,1019.0 L1762.4,1019.0 L1764.4,1019.0 L1766.4,1019.0 L1768.4,1019.0 L1770.4,1019.0 L1772.4,1019.0 L1774.4,1019.0 L1776.4,1019.0 L1778.4,1019.0 L1780.4,1019.0 L1782.4,1019.0 L1784.4,1019.0 L1786.4,1019.0 L1788.4,1019.0 L1790.4,1019.0 L1792.4,1019.0 L1794.4,1019.0 L1796.4,1018.9 L1798.4,1018.9 L1800.4,1018.9 L1802.4,1018.9 L1804.4,1018.9 L1806.4,1018.9 L1808.4,1018.9 L1810.4,1018.9 L1812.4,1018.9 L1814.4,1018.9 L1816.4,1018.9 L1818.4,1018.9 L1820.4,1019.0 L1822.4,1019.0 L1824.4,1019.0 L1826.4,1019.0 L1828.4,1019.0 L1830.4,1019.0 L1832.4,1019.0 L1834.4,1019.0 L1836.4,1019.0 L1838.4,1019.0 L1840.4,1019.0 L1842.4,1019.0 L1844.4,1019.0 L1846.4,1019.0 L1848.4,1019.0 L1850.4,1019.0 L1852.4,1019.1 L1854.4,1019.1 L1856.4,1019.1 L1858.4,1019.1 L1860.4,1019.1 L1862.4,1019.1 L1864.4,1019.1 L1866.4,1019.2 L1868.4,1019.2 L1870.4,1019.2 L1872.4,1019.2 L1874.4,1019.2 L1876.4,1019.3 L1878.4,1019.3 L1880.4,1019.3 L1882.4,1019.3 L1884.4,1019.4 L1886.4,1019.4 L1888.4,1019.4 L1890.4,1019.4 L1892.4,1019.5 L1894.3,1019.5 L1896.0,1019.5 L1900.5,1019.6" fill="none" stroke="#0000e6" stroke-width="4.4" stroke-linejoin="round" stroke-linecap="butt"/>
<text transform="translate(288.00,1068) scale(1,1.05)" text-anchor="middle">-40</text>
<text transform="translate(478.10,1068) scale(1,1.05)" text-anchor="middle">-30</text>
<text transform="translate(667.08,1068) scale(1,1.05)" text-anchor="middle">-20</text>
<text transform="translate(857.08,1068) scale(1,1.05)" text-anchor="middle">-10</text>
<text transform="translate(1050.65,1068) scale(1,1.05)" text-anchor="middle">0</text>
<text transform="translate(1242.55,1068) scale(1,1.05)" text-anchor="middle">10</text>
<text transform="translate(1431.57,1068) scale(1,1.05)" text-anchor="middle">20</text>
<text transform="translate(1620.58,1068) scale(1,1.05)" text-anchor="middle">30</text>
<text transform="translate(1810.30,1068) scale(1,1.05)" text-anchor="middle">40</text>
<text transform="translate(179.3,951.70) scale(1,1.05)" text-anchor="end">0.2</text>
<text transform="translate(179.3,872.79) scale(1,1.05)" text-anchor="end">0.4</text>
<text transform="translate(179.3,793.88) scale(1,1.05)" text-anchor="end">0.6</text>
<text transform="translate(179.3,714.97) scale(1,1.05)" text-anchor="end">0.8</text>
<text transform="translate(179.3,636.06) scale(1,1.05)" text-anchor="end">1.0</text>
<text transform="translate(179.3,557.15) scale(1,1.05)" text-anchor="end">1.2</text>
<text transform="translate(179.3,478.24) scale(1,1.05)" text-anchor="end">1.4</text>
<text transform="translate(179.3,399.33) scale(1,1.05)" text-anchor="end">1.6</text>
<text transform="translate(179.3,320.42) scale(1,1.05)" text-anchor="end">1.8</text>
<text transform="translate(179.3,241.51) scale(1,1.05)" text-anchor="end">2.0</text>
<text transform="translate(179.3,162.60) scale(1,1.05)" text-anchor="end">2.2</text>
<text transform="translate(1056.8,1107.8) scale(1,1.04)" text-anchor="middle" style="font-size:28.6px">Angle (degrees)</text>
<text transform="translate(95.8,541.6) rotate(-90) scale(1,1.05)" text-anchor="middle">Luminous Intensity (kcd)</text>
<text transform="translate(1227.2,281.8) scale(1,1.05)">FWHM = 15.5°</text>
</svg></body></html>
